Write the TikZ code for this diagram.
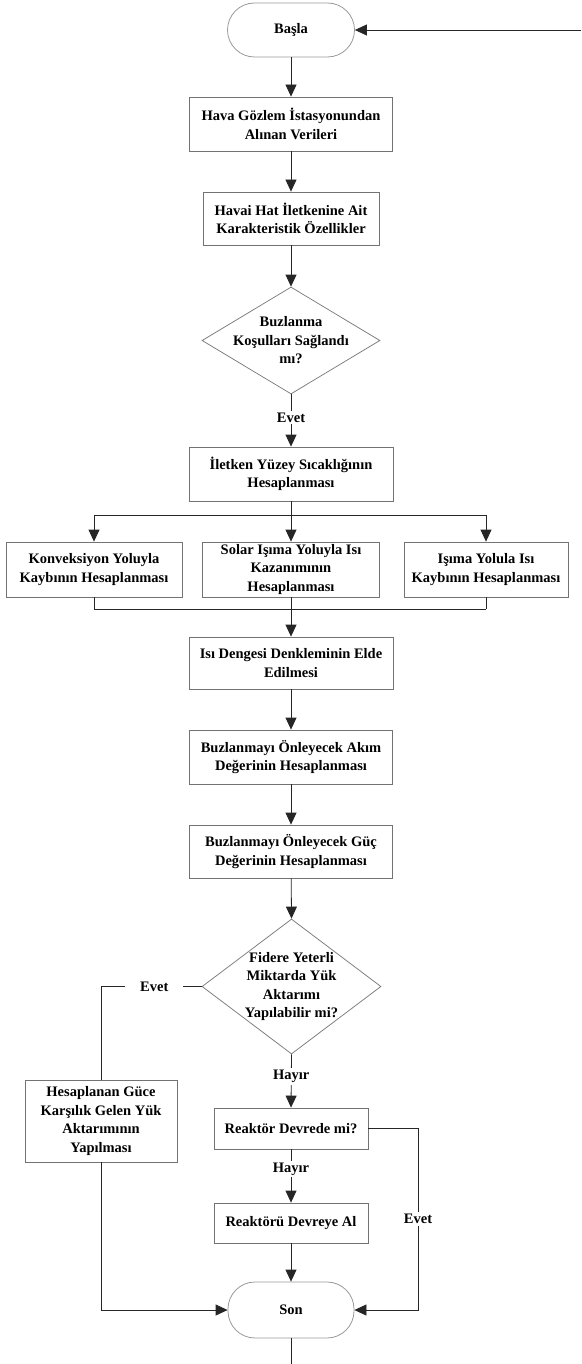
\documentclass[tikz,border=0pt]{standalone}
\usepackage{fontspec}
\setmainfont{Liberation Serif}
\usepackage{tikz}
\usetikzlibrary{arrows.meta,shapes.geometric}

\newcommand{\drawbox}[6]{
    \node[kutu, minimum width=#4pt, minimum height=#5pt] (#1) at (#2,#3) {#6};
}

\tikzset{
    yazi/.style={font=\bfseries\fontsize{14.5}{18.5}\selectfont, align=center},
    kutu/.style={yazi, draw=black!55, line width=0.8pt, rectangle, inner sep=0pt},
    uc/.style={kutu, draw=black!40, rounded corners=27pt},
    karar/.style={diamond, draw=black!50, line width=0.8pt, inner sep=0pt},
    hat/.style={draw=black!85, line width=0.8pt},
    ok/.style={hat, -{Triangle[length=12pt,width=11pt]}},
    etiket/.style={yazi, fill=white, inner sep=2pt}
}

\begin{document}
\begin{tikzpicture}[x=1pt, y=-1pt]
                \useasboundingbox (0,0) rectangle (581,1364);

                % Drawing the start and the first steps
                \node[uc, minimum width=127pt, minimum height=54pt] (basla) at (291,30) {Başla};
                \drawbox{hava}{291}{124}{203}{54}{Hava Gözlem İstasyonundan\\Alınan Verileri}
                \drawbox{havai}{291}{218.5}{176}{53}{Havai Hat İletkenine Ait\\Karakteristik Özellikler}
                \node[karar, minimum width=178pt, minimum height=107pt,
                      label={[yazi]center:Buzlanma\\Koşulları Sağlandı\\mı?}] (kosul) at (291,340.5) {};
                \drawbox{iletken}{291}{474}{204}{54}{İletken Yüzey Sıcaklığının\\Hesaplanması}

                % the three heat terms
                \drawbox{konv}{94}{569.5}{176}{55}{Konveksiyon Yoluyla\\Kaybının Hesaplanması}
                \drawbox{solar}{291}{569.5}{177}{55}{Solar Işıma Yoluyla Isı\\Kazanımının\\Hesaplanması}
                \drawbox{isima}{486}{569.5}{164}{55}{Işıma Yolula Isı\\Kaybının Hesaplanması}

                \drawbox{isi}{291}{663}{204}{52}{Isı Dengesi Denkleminin Elde\\Edilmesi}
                \drawbox{akim}{291}{757}{203}{54}{Buzlanmayı Önleyecek Akım\\Değerinin Hesaplanması}
                \drawbox{guc}{291}{851.5}{203}{53}{Buzlanmayı Önleyecek Güç\\Değerinin Hesaplanması}
                \node[karar, minimum width=179pt, minimum height=135pt,
                      label={[yazi]center:Fidere Yeterli\\Miktarda Yük\\Aktarımı\\Yapılabilir mi?}] (fidere) at (291.5,986.5) {};

                % lower part
                \drawbox{hesap}{101}{1121}{152}{82}{Hesaplanan Güce\\Karşılık Gelen Yük\\Aktarımının\\Yapılması}
                \drawbox{devrede}{291}{1128.5}{154}{41}{Reaktör Devrede mi?}
                \drawbox{devreye}{291}{1223}{154}{40}{Reaktörü Devreye Al}
                \node[uc, minimum width=126pt, minimum height=56pt] (son) at (291,1310) {Son};

                \coordinate (giris) at (581,30);
                \coordinate (ayir) at (291,515);
                \coordinate (birles) at (291,609);
                \coordinate (sagkose) at (418,1310);
                \coordinate (cikis) at (291,1364);

                % Drawing the connectors
                \draw[ok] (giris) -- (basla.east);
                \draw[ok] (basla) -- (hava);
                \draw[ok] (hava) -- (havai);
                \draw[ok] (havai) -- (kosul.north);
                \draw[ok] (kosul.south) -- node[etiket, pos=0.44] {Evet} (iletken.north);

                \draw[hat] (iletken.south) -- (ayir);
                \draw[hat] (konv.north |- ayir) -- (isima.north |- ayir);
                \foreach \k in {konv,solar,isima}{
                    \draw[ok] (\k.north |- ayir) -- (\k.north);
                    \draw[hat] (\k.south) -- (\k.south |- birles);
                }
                \draw[hat] (konv.south |- birles) -- (isima.south |- birles);
                \draw[ok] (birles) -- (isi.north);

                \draw[ok] (isi) -- (akim);
                \draw[ok] (akim) -- (guc);
                \draw[ok] (guc) -- (fidere.north);

                \draw[hat] (fidere.west) -- node[etiket, inner xsep=15pt, pos=0.47] {Evet} (hesap.north |- fidere.west) -- (hesap.north);
                \draw[ok] (hesap.south) -- (hesap.south |- son.west) -- (son.west);
                \draw[ok] (fidere.south) -- node[etiket, pos=0.42] {Hayır} (devrede.north);
                \draw[ok] (devrede) -- node[etiket, pos=0.37] {Hayır} (devreye);
                \draw[ok] (devreye) -- (son);
                \draw[ok] (devrede.east) -- (devrede.east -| sagkose) -- node[etiket] {Evet} (sagkose) -- (son.east);
                \draw[hat] (son.south) -- (cikis);
            \end{tikzpicture}
\end{document}
